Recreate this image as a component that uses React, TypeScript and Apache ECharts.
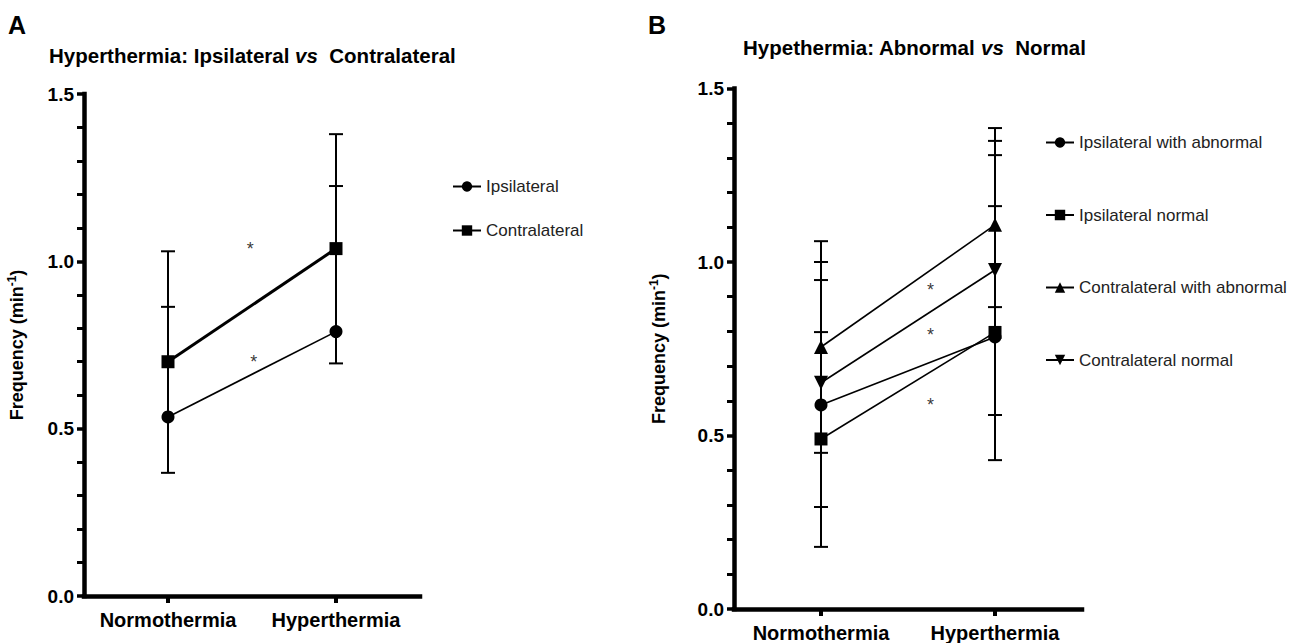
import React, { useEffect, useRef } from "react";
import * as echarts from "echarts";

// ---------- data ----------
const categories = ["Normothermia", "Hyperthermia"];
const yTicks = { min: 0, max: 1.5, interval: 0.5 };

// Panel A
const ipsiA = [0.535, 0.79];
const ipsiAHigh = [0.864, 1.225];
const ipsiALow: (number | null)[] = [null, null];
const contraA = [0.7, 1.038];
const contraAHigh = [1.03, 1.38];
const contraALow: (number | null)[] = [0.368, 0.695];
const starsA = [
  [0.49, 1.05],
  [0.51, 0.71],
];

// Panel B
const ipsiAbnB = [0.588, 0.784];
const ipsiAbnBHigh = [0.948, 1.308];
const ipsiAbnBLow: (number | null)[] = [null, null];
const ipsiNormB = [0.49, 0.797];
const ipsiNormBHigh = [0.798, 1.161];
const ipsiNormBLow: (number | null)[] = [0.179, 0.429];
const contraAbnB = [0.755, 1.107];
const contraAbnBHigh = [1.06, 1.349];
const contraAbnBLow: (number | null)[] = [0.45, 0.87];
const contraNormB = [0.652, 0.977];
const contraNormBHigh = [1.0, 1.386];
const contraNormBLow: (number | null)[] = [0.294, 0.559];
const starsB = [
  [0.63, 0.93],
  [0.63, 0.8],
  [0.63, 0.6],
];

const FONT = 'Arial, "Liberation Sans", Helvetica, sans-serif';
const DOWN_TRI = "path://M0,0 L10,0 L5,9 Z";

type Row = { cat: number; v: number; lo: number | null; hi: number | null };
function rows(vals: number[], lo: (number | null)[], hi: (number | null)[]): Row[] {
  return vals.map((v, i) => ({ cat: i, v, lo: lo[i], hi: hi[i] }));
}

function errorSeries(list: Row[], xAxisIndex: number, yAxisIndex: number) {
  return {
    type: "custom",
    xAxisIndex,
    yAxisIndex,
    z: 1,
    silent: true,
    data: list.map((r) => [r.cat, r.v]),
    renderItem: (params: any, api: any) => {
      const r = list[params.dataIndex];
      const c = api.coord([r.cat, r.v]);
      const top = api.coord([r.cat, r.hi == null ? r.v : r.hi]);
      const bot = api.coord([r.cat, r.lo == null ? r.v : r.lo]);
      const half = 7;
      const style = { stroke: "#000", lineWidth: 2 };
      const children: any[] = [
        { type: "line", shape: { x1: c[0], y1: top[1], x2: c[0], y2: bot[1] }, style },
      ];
      if (r.hi != null)
        children.push({ type: "line", shape: { x1: c[0] - half, y1: top[1], x2: c[0] + half, y2: top[1] }, style });
      if (r.lo != null)
        children.push({ type: "line", shape: { x1: c[0] - half, y1: bot[1], x2: c[0] + half, y2: bot[1] }, style });
      return { type: "group", children };
    },
  };
}

function lineSeries(name: string, data: number[], symbol: string, size: number, width: number, xi: number, yi: number) {
  return {
    type: "line",
    name,
    data,
    xAxisIndex: xi,
    yAxisIndex: yi,
    symbol,
    symbolSize: size,
    z: 3,
    lineStyle: { color: "#000", width },
    itemStyle: { color: "#000" },
  };
}

function starSeries(data: number[][], xi: number, yi: number) {
  return {
    type: "scatter",
    data,
    xAxisIndex: xi,
    yAxisIndex: yi,
    symbolSize: 1,
    itemStyle: { color: "rgba(0,0,0,0)" },
    silent: true,
    label: {
      show: true,
      position: "inside",
      formatter: "*",
      color: "#000",
      fontSize: 18,
      fontFamily: FONT,
      offset: [0, 4],
    },
    z: 4,
  };
}

function yAxis(gridIndex: number, nameGap: number) {
  return {
    type: "value",
    gridIndex,
    min: yTicks.min,
    max: yTicks.max,
    interval: yTicks.interval,
    position: "left",
    name: "Frequency (min{sup|-1})",
    nameLocation: "middle",
    nameGap,
    nameRotate: 90,
    nameTextStyle: {
      fontSize: 18,
      fontWeight: "bold",
      fontFamily: FONT,
      color: "#000",
      rich: {
        sup: { fontSize: 12, fontWeight: "bold", fontFamily: FONT, color: "#000", verticalAlign: "top", padding: [0, 0, 10, 0] },
      },
    },
    axisLine: { show: true, onZero: false, lineStyle: { color: "#000", width: 4.5, cap: "square" } },
    axisTick: { show: true, length: 7, lineStyle: { color: "#000", width: 3.5 } },
    minorTick: { show: true, splitNumber: 5, length: 7, lineStyle: { color: "#000", width: 3 } },
    splitLine: { show: false },
    minorSplitLine: { show: false },
    axisLabel: {
      fontSize: 19,
      fontWeight: "bold",
      fontFamily: FONT,
      color: "#000",
      margin: 10,
      formatter: (v: number) => v.toFixed(1),
    },
  };
}

function catAxis(gridIndex: number) {
  return {
    type: "category",
    gridIndex,
    data: categories,
    boundaryGap: true,
    position: "bottom",
    axisLine: { show: true, onZero: false, lineStyle: { color: "#000", width: 4.5, cap: "square" } },
    axisTick: { show: true, alignWithLabel: true, length: 7, lineStyle: { color: "#000", width: 4 } },
    axisLabel: { interval: 0, fontSize: 20, fontWeight: "bold", fontFamily: FONT, color: "#000", margin: 14 },
    splitLine: { show: false },
  };
}

function hiddenX(gridIndex: number) {
  return {
    type: "value",
    gridIndex,
    min: -0.5,
    max: 1.5,
    position: "top",
    axisLine: { show: false, onZero: false },
    axisTick: { show: false },
    axisLabel: { show: false },
    splitLine: { show: false },
  };
}

export default function App() {
  const ref = useRef<HTMLDivElement>(null);
  useEffect(() => {
    if (!ref.current) return;
    const chart = echarts.init(ref.current, null, { renderer: "svg" });
    const legendText = { fontSize: 17, fontFamily: FONT, color: "#222" };
    const titleRich = {
      b: { fontSize: 20.5, fontWeight: "bold", fontFamily: FONT, fill: "#000" },
      i: { fontSize: 20.5, fontWeight: "bold", fontStyle: "italic", fontFamily: FONT, fill: "#000" },
    };
    chart.setOption({
      animation: false,
      backgroundColor: "#fff",
      grid: [
        { left: 84, top: 94, width: 336, height: 502 },
        { left: 734, top: 88.5, width: 348, height: 520.5 },
      ],
      xAxis: [catAxis(0), catAxis(1), hiddenX(0), hiddenX(1)],
      yAxis: [yAxis(0, 56), yAxis(1, 64)],
      legend: [
        {
          orient: "vertical",
          left: 447,
          top: 173,
          itemGap: 27,
          itemWidth: 28,
          itemHeight: 13,
          textStyle: legendText,
          data: ["Ipsilateral", "Contralateral"],
        },
        {
          orient: "vertical",
          left: 1040,
          top: 129,
          itemGap: 55.5,
          itemWidth: 28,
          itemHeight: 13,
          textStyle: legendText,
          data: ["Ipsilateral with abnormal", "Ipsilateral normal", "Contralateral with abnormal", "Contralateral normal"],
        },
      ],
      graphic: [
        { type: "text", left: 8, top: 12, style: { text: "A", font: `bold 25px ${FONT}`, fill: "#000" } },
        { type: "text", left: 648, top: 12, style: { text: "B", font: `bold 25px ${FONT}`, fill: "#000" } },
        {
          type: "text",
          left: 49,
          top: 45,
          style: { text: "{b|Hyperthermia: Ipsilateral }{i|vs}{b|  Contralateral}", rich: titleRich },
        },
        {
          type: "text",
          left: 743,
          top: 37,
          style: { text: "{b|Hypethermia: Abnormal }{i|vs}{b|  Normal}", rich: titleRich },
        },
      ],
      series: [
        errorSeries(rows(ipsiA, ipsiALow, ipsiAHigh), 0, 0),
        errorSeries(rows(contraA, contraALow, contraAHigh), 0, 0),
        lineSeries("Ipsilateral", ipsiA, "circle", 13, 1.6, 0, 0),
        lineSeries("Contralateral", contraA, "rect", 13, 3, 0, 0),
        starSeries(starsA, 2, 0),

        errorSeries(rows(ipsiAbnB, ipsiAbnBLow, ipsiAbnBHigh), 1, 1),
        errorSeries(rows(ipsiNormB, ipsiNormBLow, ipsiNormBHigh), 1, 1),
        errorSeries(rows(contraAbnB, contraAbnBLow, contraAbnBHigh), 1, 1),
        errorSeries(rows(contraNormB, contraNormBLow, contraNormBHigh), 1, 1),
        lineSeries("Ipsilateral with abnormal", ipsiAbnB, "circle", 13, 1.6, 1, 1),
        lineSeries("Ipsilateral normal", ipsiNormB, "rect", 13, 1.6, 1, 1),
        lineSeries("Contralateral with abnormal", contraAbnB, "triangle", 14, 1.6, 1, 1),
        lineSeries("Contralateral normal", contraNormB, DOWN_TRI, 14, 1.6, 1, 1),
        starSeries(starsB, 3, 1),
      ],
    });
    return () => chart.dispose();
  }, []);
  return (
    <div
      ref={ref}
      style={{ position: "absolute", left: 0, top: 0, width: 1297, height: 643, background: "#fff" }}
    />
  );
}
